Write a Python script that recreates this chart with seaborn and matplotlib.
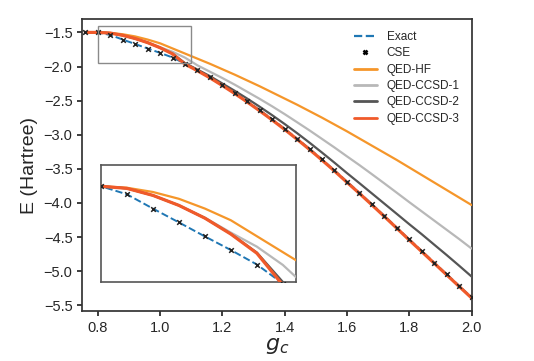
import numpy as np
import pandas as pd
import matplotlib
matplotlib.use("Agg")
import matplotlib.pyplot as plt
from matplotlib.patches import Rectangle
from matplotlib.lines import Line2D
import seaborn as sns

# coupling strength grid
g_c = [0.76, 0.80, 0.84, 0.88, 0.92, 0.96, 1.00, 1.04, 1.08, 1.12, 1.16,
       1.20, 1.24, 1.28, 1.32, 1.36, 1.40, 1.44, 1.48, 1.52, 1.56, 1.60,
       1.64, 1.68, 1.72, 1.76, 1.80, 1.84, 1.88, 1.92, 1.96, 2.00]

exact = [-1.500, -1.500, -1.538, -1.605, -1.670, -1.736, -1.800, -1.868,
         -1.958, -2.052, -2.158, -2.269, -2.387, -2.511, -2.640, -2.774,
         -2.913, -3.057, -3.207, -3.362, -3.522, -3.687, -3.850, -4.018,
         -4.188, -4.360, -4.533, -4.703, -4.873, -5.043, -5.213, -5.385]

qed_hf = [-1.500, -1.500, -1.507, -1.527, -1.559, -1.605, -1.660, -1.735,
          -1.810, -1.885, -1.960, -2.040, -2.120, -2.205, -2.290, -2.380,
          -2.470, -2.560, -2.655, -2.750, -2.850, -2.950, -3.055, -3.160,
          -3.265, -3.370, -3.480, -3.590, -3.700, -3.810, -3.920, -4.030]

ccsd1 = [-1.500, -1.500, -1.510, -1.543, -1.590, -1.648, -1.718, -1.784,
         -1.870, -1.983, -2.076, -2.169, -2.267, -2.371, -2.475, -2.584,
         -2.698, -2.817, -2.937, -3.062, -3.187, -3.317, -3.445, -3.578,
         -3.713, -3.850, -3.988, -4.123, -4.258, -4.393, -4.528, -4.668]

ccsd2 = [-1.500, -1.500, -1.510, -1.543, -1.590, -1.650, -1.724, -1.812,
         -1.950, -2.045, -2.141, -2.249, -2.357, -2.471, -2.590, -2.714,
         -2.843, -2.977, -3.117, -3.262, -3.410, -3.562, -3.710, -3.860,
         -4.010, -4.160, -4.311, -4.458, -4.611, -4.763, -4.919, -5.078]

ccsd3 = [-1.500, -1.500, -1.510, -1.543, -1.590, -1.650, -1.725, -1.815,
         -1.965, -2.062, -2.166, -2.279, -2.397, -2.521, -2.650, -2.784,
         -2.923, -3.067, -3.217, -3.372, -3.532, -3.697, -3.860, -4.028,
         -4.198, -4.370, -4.543, -4.713, -4.883, -5.053, -5.223, -5.392]

df = pd.DataFrame({"g": g_c, "Exact": exact, "QED-HF": qed_hf,
                   "QED-CCSD-1": ccsd1, "QED-CCSD-2": ccsd2,
                   "QED-CCSD-3": ccsd3})

sns.set_theme(style="ticks")
plt.rcParams["font.family"] = ["Liberation Sans", "DejaVu Sans"]
plt.rcParams["axes.edgecolor"] = "#333333"

styles = {
    "QED-HF": dict(color="#f5962a", lw=1.6),
    "QED-CCSD-1": dict(color="#b8b8b8", lw=1.6),
    "QED-CCSD-2": dict(color="#555555", lw=1.6),
    "QED-CCSD-3": dict(color="#f05a2a", lw=2.3),
}


def draw(ax):
    sns.lineplot(data=df, x="g", y="Exact", ax=ax, color="#1f77b4",
                 linestyle="--", lw=1.4, zorder=2)
    for name, st in styles.items():
        sns.lineplot(data=df, x="g", y=name, ax=ax, zorder=3, **st)
    sns.scatterplot(data=df, x="g", y="Exact", ax=ax, color="#222222",
                    marker="x", s=11, linewidth=1.1, zorder=4)


fig = plt.figure(figsize=(5.34, 3.61), dpi=100)
ax = fig.add_axes([0.154, 0.138, 0.729, 0.809])
draw(ax)
ax.set_xlim(0.75, 2.0)
ax.set_xticks([0.8, 1.0, 1.2, 1.4, 1.6, 1.8, 2.0])
ax.set_yticks([-1.5, -2.0, -2.5, -3.0, -3.5, -4.0, -4.5, -5.0, -5.5])
ax.tick_params(labelsize=10.5, length=3.5)
ax.set_xlabel("$g_c$", fontsize=16, labelpad=0)
ax.set_ylabel("E (Hartree)", fontsize=14)

handles = [Line2D([], [], color="#1f77b4", ls="--", lw=1.6),
           Line2D([], [], color="black", ls="none", marker="x", ms=3.5, mew=1.8)]
handles += [Line2D([], [], color=st["color"], lw=2) for st in styles.values()]
labels = ["Exact", "CSE"] + list(styles.keys())
ax.legend(handles, labels, loc="upper right", frameon=False,
          fontsize=8.5, handlelength=2.0, labelspacing=0.37,
          borderaxespad=0.6)

# zoom box
ax.add_patch(Rectangle((0.8, -1.95), 0.3, 0.55, fill=False,
                       edgecolor="#8a8a8a", lw=1.0, zorder=5))

ins = fig.add_axes([0.189, 0.219, 0.365, 0.324])
draw(ins)
ins.set_xlim(0.8, 1.1)
ins.set_ylim(-1.95, -1.4)
ins.set_xticks([])
ins.set_yticks([])
ins.set_xlabel("")
ins.set_ylabel("")
for sp in ins.spines.values():
    sp.set_color("#555555")
    sp.set_linewidth(1.2)

fig.savefig("out.png", dpi=100)
